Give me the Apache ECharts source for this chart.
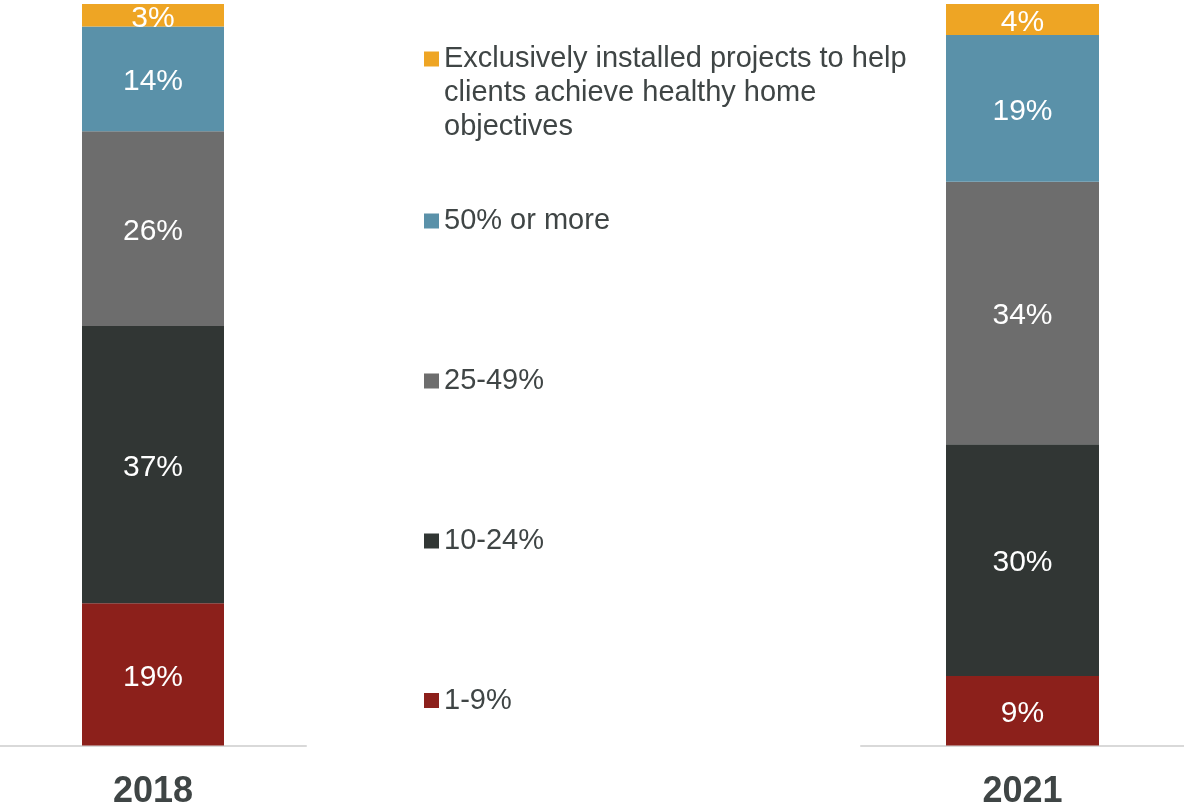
<!DOCTYPE html>
<html>
<head>
<meta charset="utf-8">
<title>Share of projects installed to help clients achieve healthy home objectives</title>
<script src="https://cdn.jsdelivr.net/npm/echarts@6/dist/echarts.min.js"></script>
<style>
  html, body { margin: 0; padding: 0; background: #ffffff; }
  #chart { width: 1184px; height: 808px; }
</style>
</head>
<body>
<div id="chart"></div>
<script>
// Survey years, one stacked bar each
const categories = ['2018', '2021'];

// Response bands, bottom of the stack first
const bandNames = [
  '1-9%',
  '10-24%',
  '25-49%',
  '50% or more',
  'Exclusively installed projects to help clients achieve healthy home objectives'
];

// Reported shares (%) per band, same order as bandNames
const shares2018 = [19, 37, 26, 14, 3];
const shares2021 = [9, 30, 34, 19, 4];

const bandColors = ['#8c201b', '#313634', '#6d6d6d', '#5a91a9', '#eea524'];

const FONT = "'Liberation Sans', Arial, sans-serif";
const TEXT_COLOR = '#3f4545';

const sharesByYear = [shares2018, shares2021];

// Each bar is drawn as a 100% stack: every band is scaled by the bar's total
function normalised(values) {
  const total = values.reduce((a, b) => a + b, 0);
  return values.map(v => v / total * 100);
}

const grids = [
  { left: 0, width: 306, top: 4, bottom: 62.5, containLabel: false, outerBoundsMode: 'none' },
  { left: 861, right: 0, top: 4, bottom: 62.5, containLabel: false, outerBoundsMode: 'none' }
];
const barWidths = [142, 153];

const xAxes = categories.map((cat, g) => ({
  type: 'category',
  gridIndex: g,
  data: [cat],
  axisLine: { show: true, lineStyle: { color: '#d9d9d9', width: 2 } },
  axisTick: { show: false },
  axisLabel: {
    margin: 29,
    fontFamily: FONT,
    fontSize: 36,
    fontWeight: 'bold',
    color: TEXT_COLOR
  }
}));

const yAxes = categories.map((cat, g) => ({
  type: 'value',
  gridIndex: g,
  min: 0,
  max: 100,
  show: false
}));

const series = [];
sharesByYear.forEach((values, g) => {
  const scaled = normalised(values);
  bandNames.forEach((name, i) => {
    series.push({
      type: 'bar',
      name: name,
      stack: 'year' + g,
      xAxisIndex: g,
      yAxisIndex: g,
      barWidth: barWidths[g],
      data: [scaled[i]],
      itemStyle: { color: bandColors[i] },
      label: {
        show: true,
        position: 'inside',
        offset: [0, 3],
        color: '#ffffff',
        fontFamily: FONT,
        fontSize: 30,
        formatter: () => values[i] + '%'
      },
      emphasis: { disabled: true }
    });
  });
});

// Legend entries, top to bottom, with the vertical centre of each marker
const legendOrder = [4, 3, 2, 1, 0];
const legendCentres = [59, 221, 381, 541, 700.5];
const LINE_H = 34;

const legends = legendOrder.map((bandIdx, k) => {
  const multiLine = bandIdx === 4;
  const legend = {
    data: [bandNames[bandIdx]],
    orient: 'vertical',
    left: 424,
    top: legendCentres[k] - LINE_H / 2,
    padding: 0,
    itemWidth: 15,
    itemHeight: 15,
    itemGap: 0,
    icon: 'rect',
    selectedMode: false,
    textStyle: {
      fontFamily: FONT,
      fontSize: 29,
      lineHeight: LINE_H,
      color: TEXT_COLOR
    }
  };
  if (multiLine) {
    // the long entry wraps to three lines; two blank lines above it keep
    // the marker level with the first line of text
    legend.formatter = name => '\n\n' + name;
    legend.textStyle.width = 480;
    legend.textStyle.overflow = 'break';
    legend.top = legendCentres[k] - (LINE_H * 5) / 2;
  }
  return legend;
});

const chart = echarts.init(document.getElementById('chart'), null, { renderer: 'canvas' });
chart.setOption({
  animation: false,
  backgroundColor: '#ffffff',
  grid: grids,
  xAxis: xAxes,
  yAxis: yAxes,
  legend: legends,
  tooltip: { show: false },
  series: series
});
</script>
</body>
</html>
